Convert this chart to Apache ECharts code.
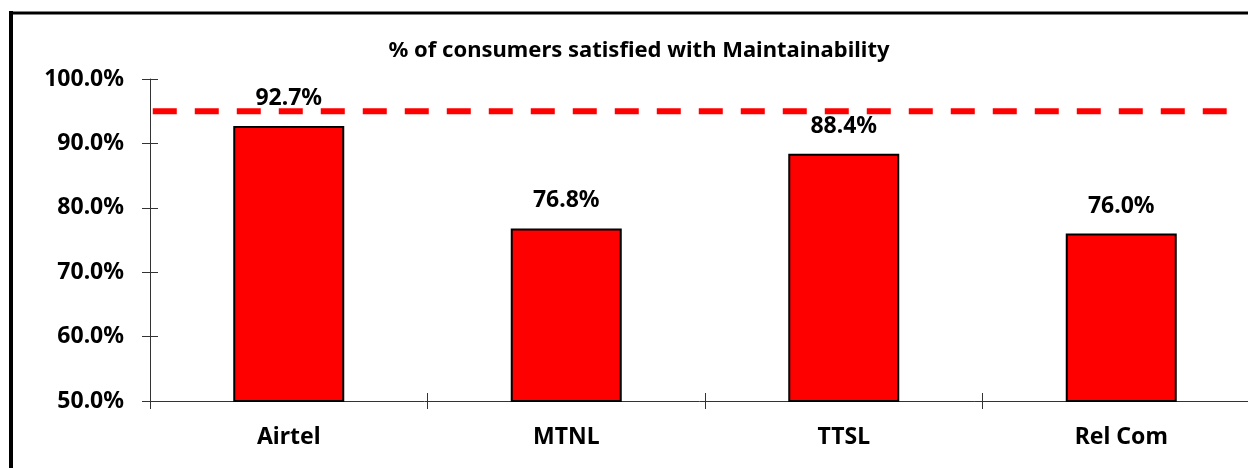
<!DOCTYPE html>
<html><head><meta charset="utf-8">
<script src="https://cdn.jsdelivr.net/npm/echarts@6/dist/echarts.min.js"></script>
<style>html,body{margin:0;padding:0;background:#fff}#c{width:1248px;height:468px}</style>
</head><body><div id="c"></div>
<script>
const categories = ['Airtel', 'MTNL', 'TTSL', 'Rel Com'];
const satisfied = [92.7, 76.8, 88.4, 76.0];
const benchmark = 95;
const benchmarkSpan = [0.01, 3.88];
const yTicks = { min: 50, max: 100, interval: 10 };
const titleText = '% of consumers satisfied with Maintainability';

const FONT = '"Noto Sans", sans-serif';
const GRID = { left: 150, top: 79, width: 1110, height: 322 };
const chart = echarts.init(document.getElementById('c'));
const axisCol = '#333';
chart.setOption({
  animation: false,
  backgroundColor: '#fff',
  title: { text: titleText, left: 634, top: 35, textAlign: 'center',
    textStyle: { fontFamily: FONT, fontWeight: 'bold', fontSize: 22, color: '#000' } },
  graphic: [
    { type: 'line', shape: { x1: 11, y1: 11, x2: 11, y2: 480 }, style: { stroke: '#000', lineWidth: 4 }, z: 100 },
    { type: 'line', shape: { x1: 9, y1: 13, x2: 1260, y2: 13 }, style: { stroke: '#000', lineWidth: 3 }, z: 100 }
  ],
  grid: { left: GRID.left, top: GRID.top, width: GRID.width, height: GRID.height,
    containLabel: false, outerBoundsMode: 'none' },
  xAxis: [
    { type: 'category', data: categories, position: 'bottom',
      axisLine: { lineStyle: { color: axisCol, width: 1 } },
      axisTick: { show: true, length: 8, lineStyle: { color: axisCol } },
      axisLabel: { fontFamily: FONT, fontWeight: 'bold', fontSize: 23, color: '#000', margin: 25 } },
    { type: 'category', data: categories, position: 'top', offset: -GRID.height,
      axisLine: { show: false },
      axisTick: { show: true, length: 8, lineStyle: { color: axisCol } },
      axisLabel: { show: false } },
    { type: 'value', min: 0, max: categories.length, show: false }
  ],
  yAxis: [
    { type: 'value', min: yTicks.min, max: yTicks.max, interval: yTicks.interval, position: 'left',
      axisLine: { show: true, lineStyle: { color: axisCol, width: 1 } },
      axisTick: { show: true, length: 8, lineStyle: { color: axisCol } },
      splitLine: { show: false },
      axisLabel: { fontFamily: FONT, fontWeight: 'bold', fontSize: 23, color: '#000', margin: 26,
        formatter: v => v.toFixed(1) + '%' } },
    { type: 'value', min: yTicks.min, max: yTicks.max, interval: yTicks.interval, position: 'right', offset: -GRID.width,
      axisLine: { show: false },
      axisTick: { show: true, length: 8, lineStyle: { color: axisCol } },
      splitLine: { show: false }, axisLabel: { show: false } }
  ],
  series: [
    { type: 'bar', data: satisfied, xAxisIndex: 0, yAxisIndex: 0, barWidth: '40%',
      itemStyle: { color: '#FF0000', borderColor: '#000', borderWidth: 2 },
      label: { show: true, position: 'top', distance: 16, fontFamily: FONT, fontWeight: 'bold', fontSize: 23, color: '#000',
        formatter: p => p.value.toFixed(1) + '%' } },
    { type: 'line', xAxisIndex: 2, yAxisIndex: 0, symbol: 'none', z: 5,
      data: benchmarkSpan.map(x => [x, benchmark]),
      lineStyle: { color: '#FF0000', width: 6, type: [24, 18] } },
    { type: 'line', xAxisIndex: 1, yAxisIndex: 1, symbol: 'none', data: [], silent: true }
  ]
});
</script></body></html>
